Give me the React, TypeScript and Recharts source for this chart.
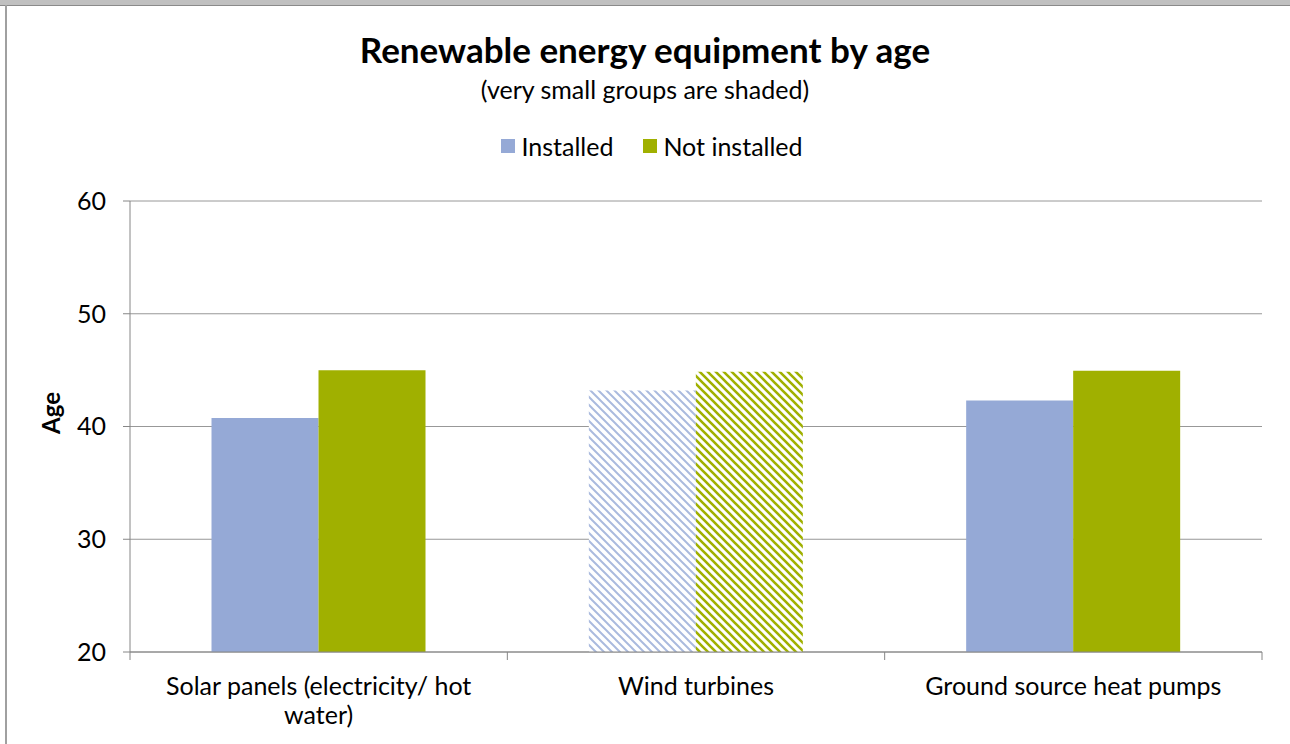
import React from 'react';
import { BarChart, Bar, XAxis, YAxis, CartesianGrid, Cell } from 'recharts';

const categories = ['Solar panels (electricity/ hot water)', 'Wind turbines', 'Ground source heat pumps'];
const installed = [40.75, 43.2, 42.3];
const notInstalled = [45.0, 44.85, 44.95];
const shaded = [false, true, false];
const yTicks = [20, 30, 40, 50, 60];
const seriesNames = ['Installed', 'Not installed'];

const BLUE = '#95a9d6';
const GREEN = '#a0b000';
const AXIS = '#868686';
const FONT = 'Lato, "Open Sans", sans-serif';
const TICK_FONT_SIZE = 25;

const W = 1290;
const H = 744;
const XAXIS_H = 92;
const MARGIN = { top: 201, right: 28, bottom: 0, left: 0 };
const YAXIS_W = 130;
const PLOT_W = W - MARGIN.left - MARGIN.right - YAXIS_W;
const LABEL_WRAP = 340;

const data = categories.map((name, i) => ({
  name,
  installed: installed[i],
  notInstalled: notInstalled[i],
  shaded: shaded[i],
}));

let ctx: CanvasRenderingContext2D | null = null;
function measure(s: string): number {
  if (!ctx) {
    const c = document.createElement('canvas');
    ctx = c.getContext('2d');
  }
  if (!ctx) return s.length * TICK_FONT_SIZE * 0.5;
  ctx.font = `${TICK_FONT_SIZE}px Lato`;
  return ctx.measureText(s).width;
}

function wrap(s: string, width: number): string[] {
  const words = s.split(' ');
  const lines: string[] = [];
  let cur = '';
  for (const w of words) {
    const test = cur ? cur + ' ' + w : w;
    if (cur && measure(test) > width) {
      lines.push(cur);
      cur = w;
    } else {
      cur = test;
    }
  }
  if (cur) lines.push(cur);
  return lines;
}

const XTick = (props: any) => {
  const { x, y, payload, index } = props;
  const bw = PLOT_W / categories.length;
  const lines = wrap(String(payload.value), LABEL_WRAP);
  return (
    <g>
      <line x1={x - bw / 2} x2={x - bw / 2} y1={y - 8} y2={y} stroke={AXIS} strokeWidth={1} />
      {index === categories.length - 1 && (
        <line x1={x + bw / 2} x2={x + bw / 2} y1={y - 8} y2={y} stroke={AXIS} strokeWidth={1} />
      )}
      <text
        x={x}
        y={y + 35}
        textAnchor="middle"
        style={{ fontSize: TICK_FONT_SIZE, fontFamily: FONT, fill: '#000' }}
      >
        {lines.map((l, i) => (
          <tspan key={i} x={x} dy={i === 0 ? 0 : 29}>
            {l}
          </tspan>
        ))}
      </text>
    </g>
  );
};

const AgeLabel = () => (
  <text
    x={50}
    y={413}
    transform="rotate(-90, 50, 413)"
    textAnchor="middle"
    dominantBaseline="central"
    style={{ fontSize: 24, fontWeight: 700, fontFamily: FONT, fill: '#000' }}
  >
    Age
  </text>
);

export default function App() {
  const colors = [BLUE, GREEN];
  return (
    <div style={{ position: 'fixed', left: 0, top: 0, width: W, height: H, background: '#fff', overflow: 'hidden' }}>
      <div style={{ position: 'absolute', left: 0, top: 0, width: W, height: 5, background: '#c0c0c0' }} />
      <div style={{ position: 'absolute', left: 0, top: 5, width: W, height: 1, background: '#8a8a8a' }} />
      <div style={{ position: 'absolute', left: 5, top: 5, width: 2, height: H, background: '#a0a0a0' }} />
      <div
        style={{
          position: 'absolute', left: 0, top: 27, width: W, textAlign: 'center',
          fontFamily: FONT, fontWeight: 700, fontSize: 35, color: '#000', lineHeight: '44px',
        }}
      >
        Renewable energy equipment by age
      </div>
      <div
        style={{
          position: 'absolute', left: 0, top: 73, width: W, textAlign: 'center',
          fontFamily: FONT, fontSize: 25, color: '#000', lineHeight: '32px',
        }}
      >
        (very small groups are shaded)
      </div>
      <div
        style={{
          position: 'absolute', left: 7, top: 130, width: W, height: 32,
          display: 'flex', justifyContent: 'center', alignItems: 'center',
          fontFamily: FONT, fontSize: 25, color: '#000',
        }}
      >
        {seriesNames.map((n, i) => (
          <div key={n} style={{ display: 'flex', alignItems: 'center', marginRight: i === 0 ? 30 : 0 }}>
            <div style={{ width: 14, height: 14, background: colors[i], marginRight: 6 }} />
            <span>{n}</span>
          </div>
        ))}
      </div>
      <div style={{ position: 'absolute', left: 0, top: 0 }}>
        <BarChart width={W} height={H} data={data} margin={MARGIN} barCategoryGap="21.6%" barGap={0}>
          <defs>
            <pattern id="hatchBlue" width="8" height="8" patternUnits="userSpaceOnUse">
              <rect width="8" height="8" fill="#ffffff" />
              <path d="M-2,-2 L10,10 M-2,6 L2,10 M6,-2 L10,2" stroke={BLUE} strokeWidth={2} strokeOpacity={0.8} />
            </pattern>
            <pattern id="hatchGreen" width="8" height="8" patternUnits="userSpaceOnUse">
              <rect width="8" height="8" fill="#ffffff" />
              <path d="M-2,-2 L10,10 M-2,6 L2,10 M6,-2 L10,2" stroke={GREEN} strokeWidth={2.6} />
            </pattern>
          </defs>
          <CartesianGrid horizontal vertical={false} stroke={AXIS} strokeOpacity={0.85} />
          <XAxis
            dataKey="name"
            height={XAXIS_H}
            interval={0}
            tickLine={false}
            tickSize={8}
            tickMargin={0}
            axisLine={{ stroke: AXIS }}
            tick={<XTick />}
          />
          <YAxis
            width={YAXIS_W}
            domain={[20, 60]}
            ticks={yTicks}
            allowDataOverflow
            tickSize={7}
            tickMargin={17}
            axisLine={{ stroke: AXIS }}
            tickLine={{ stroke: AXIS }}
            tick={{ fontSize: TICK_FONT_SIZE, fontFamily: FONT, fill: '#000' }}
            label={<AgeLabel />}
          />
          <Bar dataKey="installed" name={seriesNames[0]} fill={BLUE} isAnimationActive={false}>
            {data.map((d, i) => (
              <Cell key={i} fill={d.shaded ? 'url(#hatchBlue)' : BLUE} />
            ))}
          </Bar>
          <Bar dataKey="notInstalled" name={seriesNames[1]} fill={GREEN} isAnimationActive={false}>
            {data.map((d, i) => (
              <Cell key={i} fill={d.shaded ? 'url(#hatchGreen)' : GREEN} />
            ))}
          </Bar>
        </BarChart>
      </div>
    </div>
  );
}
